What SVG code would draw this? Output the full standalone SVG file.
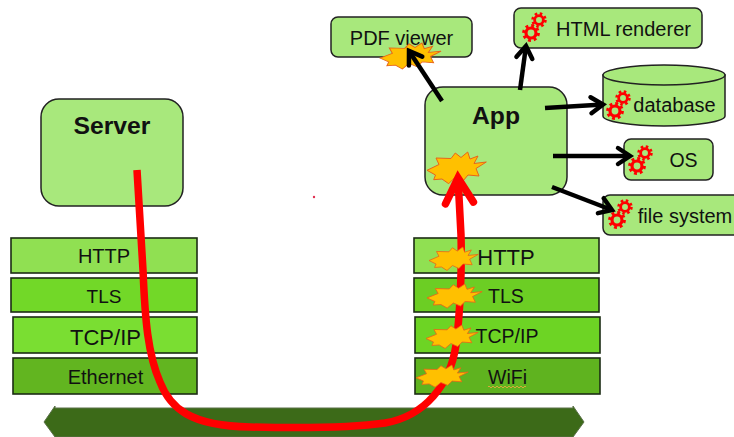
<svg xmlns="http://www.w3.org/2000/svg" xmlns:xlink="http://www.w3.org/1999/xlink" width="734" height="437" viewBox="0 0 734 437">
<style>
text{font-family:"Liberation Sans",Arial,sans-serif;fill:#111;text-anchor:middle}
.b{font-weight:bold}
.n{fill:#a8e87c;stroke:#222;stroke-width:1.5}
.s{stroke:#1c2c14;stroke-width:1.6}
.k{fill:none;stroke:#000;stroke-width:4.5;marker-end:url(#ah)}
.r{fill:none;stroke:#f00;stroke-width:7.5;stroke-linecap:butt}
</style>
<defs>
<marker id="ah" markerUnits="userSpaceOnUse" markerWidth="28" markerHeight="28" viewBox="0 0 28 28" refX="22" refY="14" orient="auto">
<path d="M10 6 L22 14 L10 22" fill="none" stroke="#000" stroke-width="4.5" stroke-linecap="round" stroke-linejoin="miter"/>
</marker>
<marker id="rh" markerUnits="userSpaceOnUse" markerWidth="50" markerHeight="50" viewBox="0 0 50 50" refX="36" refY="25" orient="auto">
<path d="M11 11 L36 25 L11 39" fill="none" stroke="#f00" stroke-width="7.5" stroke-linecap="round" stroke-linejoin="miter"/>
</marker>
<polygon id="burst" fill="#ffc000" stroke="#e8641a" stroke-width="1" points="0,18.3 12,12.5 9,6 24,6.5 28.3,1 34,5.500 40.7,0 43,7 51,4 47,11.5 59.3,10 49,16.500 52,24 41,23 36,29 28.3,25 21.7,31.7 15,27 6.7,27.7 8.5,23"/>
<g id="gear" fill="none" stroke="#f00">
<circle r="5" stroke-width="3.2"/>
<circle r="7.4" stroke-width="3" stroke-dasharray="2.9 2.91"/>
</g>
<g id="gears">
<use href="#gear"/>
<use href="#gear" transform="translate(8 -13) scale(.87)"/>
</g>
</defs>
<rect width="734" height="437" fill="#fff"/>
<polygon id="network" points="44,422 55,406 55,408 573,408 573,406 584,422 573,437 55,437" fill="#3c6a18" stroke="#5a7048" stroke-width="1"/>
<circle cx="314" cy="197" r="1.2" fill="#e03050"/>
<g id="server"><rect class="n" x="41" y="99" width="142" height="107" rx="18"/><text class="b" x="112" y="134" font-size="24.7">Server</text></g>
<g id="app"><rect class="n" x="425" y="87" width="142" height="108" rx="18"/><text class="b" x="496" y="124" font-size="24.7">App</text></g>
<g id="pdf-viewer"><rect class="n" x="331" y="17" width="141" height="40" rx="7"/><text x="401.500" y="45" font-size="20">PDF viewer</text></g>
<g id="html-renderer"><rect class="n" x="514" y="8" width="188" height="40" rx="7"/><use href="#gears" transform="translate(531 33)"/><text x="623.500" y="36" font-size="20">HTML renderer</text></g>
<g id="database"><path class="n" d="M603 75 V116 A61 10 0 0 0 725 116 V75 Z"/><ellipse class="n" cx="664" cy="75" rx="61" ry="10"/><use href="#gears" transform="translate(615 111)"/><text x="674.500" y="112" font-size="20">database</text></g>
<g id="os"><rect class="n" x="624" y="139" width="89" height="41" rx="7"/><use href="#gears" transform="translate(637 166)"/><text x="683.500" y="167" font-size="19.5">OS</text></g>
<g id="file-system"><rect class="n" x="603" y="195" width="140" height="40" rx="7"/><use href="#gears" transform="translate(617 220)"/><text x="685" y="223" font-size="20">file system</text></g>
<g id="left-http"><rect class="s" x="11" y="238" width="186" height="35" fill="#90e052"/><text x="104" y="263" font-size="20">HTTP</text></g>
<g id="left-tls"><rect class="s" x="11" y="278" width="186" height="34" fill="#72d828"/><text x="104" y="303" font-size="19">TLS</text></g>
<g id="left-tcpip"><rect class="s" x="13" y="317" width="184" height="36" fill="#7ade32"/><text x="105.500" y="345" font-size="22">TCP/IP</text></g>
<g id="left-ethernet"><rect class="s" x="13" y="358" width="184" height="36" fill="#62b520"/><text x="105.500" y="384" font-size="20">Ethernet</text></g>
<g id="right-http"><rect class="s" x="414" y="238" width="185" height="35" fill="#90e052"/><text x="506" y="265" font-size="22">HTTP</text></g>
<g id="right-tls"><rect class="s" x="414" y="278" width="185" height="34" fill="#6cce24"/><text x="506" y="303" font-size="19.500">TLS</text></g>
<g id="right-tcpip"><rect class="s" x="415" y="317" width="185" height="36" fill="#6dd424"/><text x="507" y="343" font-size="19.500">TCP/IP</text></g>
<g id="right-wifi"><rect class="s" x="415" y="358" width="185" height="36" fill="#5fb31f"/><text x="507.500" y="384" font-size="19.500">WiFi</text><path d="M488 387 q1 -2 2 0 t2 0 t2 0 t2 0 t2 0 t2 0 t2 0 t2 0 t2 0 t2 0 t2 0 t2 0 t2 0 t2 0 t2 0 t2 0 t2 0 t2 0 t2 0" fill="none" stroke="#d8a83a" stroke-width="1"/></g>
<use href="#burst" transform="translate(380 43) scale(1.030 .82)"/>
<use href="#burst" transform="translate(427 152)"/>
<g id="connectors">
<path class="k" d="M442 101 L409 51"/>
<path class="k" d="M520 90 L526 46"/>
<path class="k" d="M545 108 L603 104.500"/>
<path class="k" d="M553 156 L630 156"/>
<path class="k" d="M552 187 L612 210"/>
<path class="r" d="M137 170 C139 200 141 235 143 270 C145 320 148 355 160 382 C170 408 190 426 250 427 C290 428 350 428 385 423 C425 416 450 385 456 345 C460 315 462 270 461 235 C460 215 459 195 458 178" marker-end="url(#rh)"/>
</g>
<use href="#burst" transform="translate(429 247) scale(.83 .74)"/>
<use href="#burst" transform="translate(427 284) scale(.93 .76)"/>
<use href="#burst" transform="translate(426 325) scale(.88 .74)"/>
<use href="#burst" transform="translate(416 365) scale(.88 .7)"/>
</svg>
